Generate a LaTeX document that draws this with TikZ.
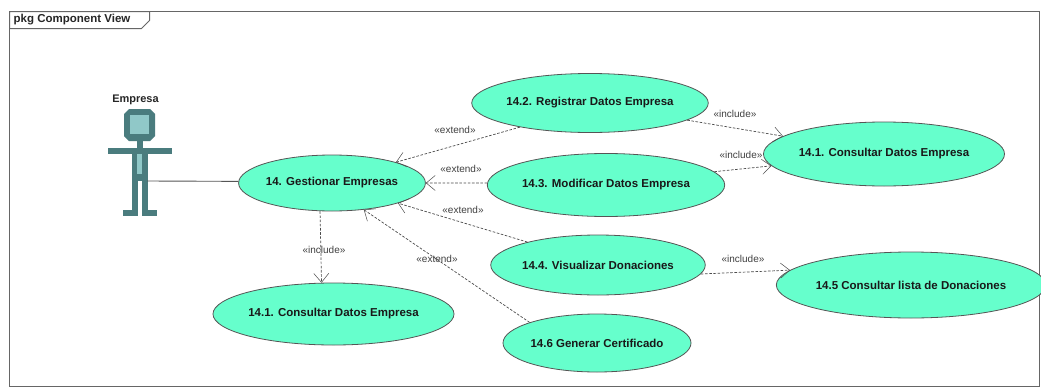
\documentclass[tikz,border=0pt]{standalone}
\usepackage{fontspec}
\setmainfont{Liberation Sans}
\usetikzlibrary{shapes.geometric,arrows.meta}
\definecolor{ucfill}{HTML}{66FFCC}
\definecolor{actordark}{HTML}{4A7C7E}
\definecolor{actorlight}{HTML}{90C8C8}
\definecolor{linegray}{HTML}{555555}
\tikzset{
  usecase/.style={ellipse,draw=linegray,line width=0.8pt,fill=ucfill,inner sep=0pt,text=black!90,font=\bfseries\fontsize{11.5}{13}\selectfont},
  dep/.style={draw=black!70,line width=0.7pt,dash pattern=on 2.6pt off 1.6pt,-{Straight Barb[length=9pt,width=15pt,line width=0.5pt]}},
  stereo/.style={font=\fontsize{10}{12}\selectfont,text=black!75,inner sep=0pt},
  assoc/.style={draw=linegray,line width=0.9pt},
  adark/.style={fill=actordark,draw=none},
  alight/.style={fill=actorlight,draw=none}
}
\begin{document}
\begin{tikzpicture}[x=1pt,y=-1pt]
\useasboundingbox (0,0) rectangle (1041,388);
\fill[white] (0,0) rectangle (1041,388);
% frame
\draw[draw=black!60,line width=1pt] (9.5,11.5) rectangle (1039,386);
\draw[draw=black!60,line width=1pt,fill=white] (9.5,11.5) -- (149.5,11.5) -- (149.5,20.5) -- (141.5,28.5) -- (9.5,28.5) -- cycle;
\node[anchor=west,inner sep=0pt,font=\bfseries\fontsize{11.5}{13}\selectfont,text=black!85] (title) at (13.5,20) {pkg Component View};
% actor
\node[inner sep=0pt,font=\bfseries\fontsize{11}{13}\selectfont,text=black!85] (actorname) at (135.5,100) {Empresa};
\fill[adark] (129,109) -- (150,109) -- (155,114) -- (155,136) -- (150,141) -- (129,141) -- (124,136) -- (124,114) -- cycle;
\fill[alight] (130,115) rectangle (149,134);
\fill[adark] (137,141) rectangle (143,148);
\fill[adark] (108,148) rectangle (172,154);
\fill[adark] (132,154) rectangle (148,181);
\fill[alight] (137,153.5) rectangle (142,174);
\fill[adark] (132,181) rectangle (138,216);
\fill[adark] (142,181) rectangle (148,216);
\fill[adark] (123,209.5) rectangle (138,216);
\fill[adark] (142,209.5) rectangle (157,216);
\coordinate (actorhip) at (147,181);
% use cases
\node[usecase,minimum width=166pt,minimum height=56pt] (g) at (332,183) {14. Gestionar Empresas};
\node[usecase,minimum width=198pt,minimum height=59pt] (r) at (590,103) {14.2. Registrar Datos Empresa};
\node[usecase,minimum width=198pt,minimum height=63pt] (m) at (606,185) {14.3. Modificar Datos Empresa};
\node[usecase,minimum width=181pt,minimum height=60pt] (v) at (598,265) {14.4. Visualizar Donaciones};
\node[usecase,minimum width=181pt,minimum height=58pt] (c) at (597,343) {14.6 Generar Certificado};
\node[usecase,minimum width=203pt,minimum height=62pt] (l) at (333.5,314) {14.1. Consultar Datos Empresa};
\node[usecase,minimum width=204pt,minimum height=64pt] (d) at (884,154) {14.1. Consultar Datos Empresa};
\node[usecase,minimum width=227pt,minimum height=66pt] (n) at (911,285) {14.5 Consultar lista de Donaciones};
% connectors
\draw[assoc] (actorhip) -- (g.179);
\draw[dep] (r.199) -- (g.18);
\draw[dep] (m.179) -- (g.0);
\draw[dep] (v.162) -- (g.-17);
\draw[dep] (c.163) -- (g.-40);
\draw[dep] (g.247) -- (l.111);
\draw[dep] (r.-10) -- (d.170);
\draw[dep] (m.7) -- (d.186);
\draw[dep] (v.-5) -- (n.173.5);
% labels
\node[stereo] (s1) at (455,130) {«extend»};
\node[stereo] (s2) at (461,169) {«extend»};
\node[stereo] (s3) at (463,210) {«extend»};
\node[stereo] (s4) at (437,259) {«extend»};
\node[stereo] (s5) at (324,250) {«include»};
\node[stereo] (s6) at (735,114) {«include»};
\node[stereo] (s7) at (741,155) {«include»};
\node[stereo] (s8) at (743,259) {«include»};
\end{tikzpicture}
\end{document}
